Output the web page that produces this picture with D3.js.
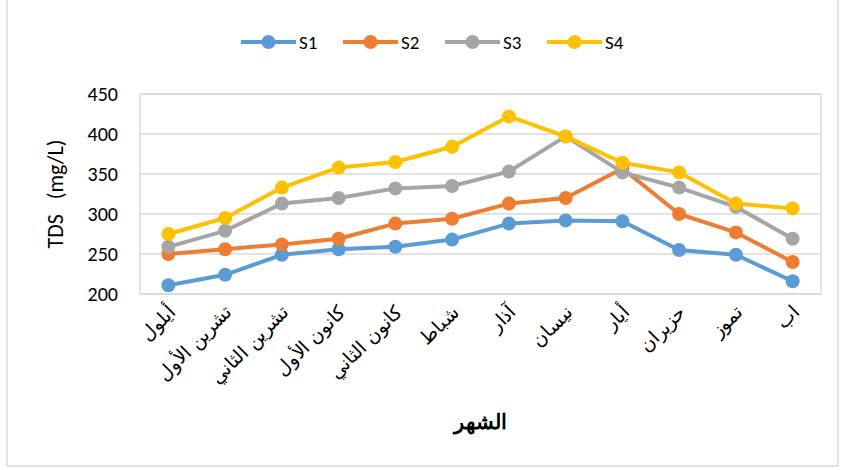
<html>
<head>
<style>
body { margin: 0; background: #fff; font-family: Calibri, Carlito, "Liberation Sans", sans-serif; }
.grid line { stroke: #d9d9d9; stroke-width: 1.5; }
.axis path, .axis line { display: none; }
</style>
</head>
<script src="https://d3js.org/d3.v7.min.js"></script>
<body>
<div id="chart"></div>
<script>

var months = ["أيلول", "تشرين الأول", "تشرين الثاني", "كانون الأول", "كانون الثاني", "شباط",
              "آذار", "نيسان", "أيار", "حزيران", "تموز", "اب"];
var seriesNames = ["S1", "S2", "S3", "S4"];
var s1 = [211, 224, 249, 256, 259, 268, 288, 292, 291, 255, 249, 216];
var s2 = [250, 256, 262, 269, 288, 294, 313, 320, 357, 300, 277, 240];
var s3 = [259, 279, 313, 320, 332, 335, 353, 397, 352, 333, 309, 269];
var s4 = [275, 295, 333, 358, 365, 384, 422, 397, 364, 352, 313, 307];
var yTicks = [200, 250, 300, 350, 400, 450];
var colors = ["#5b9bd5", "#ed7d31", "#a5a5a5", "#ffc000"];

var series = [s1, s2, s3, s4];

var W = 841, H = 470;
var margin = {top: 94, right: 20, bottom: 176, left: 140};
var width = W - margin.left - margin.right,
    height = H - margin.top - margin.bottom;

var svg = d3.select("#chart").append("svg")
    .attr("width", W)
    .attr("height", H);

// outer chart frame
svg.append("rect")
    .attr("x", 7).attr("y", -2)
    .attr("width", 831).attr("height", 468)
    .style("fill", "none")
    .style("stroke", "#d9d9d9")
    .style("stroke-width", 1.5);

var g = svg.append("g")
    .attr("transform", "translate(" + margin.left + "," + margin.top + ")");

var x = d3.scaleBand().domain(months).range([0, width]);
var y = d3.scaleLinear().domain([200, 450]).range([height, 0]);

// gridlines
g.append("g")
    .attr("class", "grid")
    .selectAll("line")
    .data(yTicks)
    .enter().append("line")
      .attr("x1", 0).attr("x2", width)
      .attr("y1", function(d) { return y(d); })
      .attr("y2", function(d) { return y(d); });

// plot area border
g.append("rect")
    .attr("width", width).attr("height", height)
    .style("fill", "none")
    .style("stroke", "#d9d9d9")
    .style("stroke-width", 1.5);

// y axis
g.append("g")
    .attr("class", "axis")
    .call(d3.axisLeft(y).tickValues(yTicks).tickSize(0).tickPadding(22))
    .selectAll("text")
      .style("font-size", "20px")
      .style("fill", "#000")
      .style("font-family", "Calibri, Carlito, 'Liberation Sans', sans-serif");

// x axis with rotated labels
g.append("g")
    .attr("class", "axis")
    .attr("transform", "translate(0," + height + ")")
    .call(d3.axisBottom(x).tickSize(0).tickPadding(0))
    .selectAll("text")
      .attr("transform", "translate(3,15) rotate(-45)")
      .attr("dy", "0.35em")
      .style("text-anchor", "end")
      .style("font-size", "19px")
      .style("fill", "#000")
      .style("font-family", "'DejaVu Serif', 'Liberation Serif', serif");

// lines and markers
var line = d3.line()
    .x(function(d, i) { return x(months[i]) + x.bandwidth() / 2; })
    .y(function(d) { return y(d); });

series.forEach(function(vals, k) {
  g.append("path")
      .datum(vals)
      .attr("d", line)
      .style("fill", "none")
      .style("stroke", colors[k])
      .style("stroke-width", 4)
      .style("stroke-linejoin", "round");
  g.selectAll(".dot" + k)
      .data(vals)
      .enter().append("circle")
        .attr("class", "dot" + k)
        .attr("cx", function(d, i) { return x(months[i]) + x.bandwidth() / 2; })
        .attr("cy", function(d) { return y(d); })
        .attr("r", 7)
        .style("fill", colors[k]);
});

// y axis title
svg.append("text")
    .attr("transform", "translate(55,194) rotate(-90)")
    .attr("dy", "0.35em")
    .style("text-anchor", "middle")
    .style("font-size", "22px")
    .attr("xml:space", "preserve")
    .text("TDS   (mg/L)");

// x axis title
svg.append("text")
    .attr("x", margin.left + width / 2)
    .attr("y", 422)
    .attr("dy", "0.35em")
    .style("text-anchor", "middle")
    .style("font-size", "21px")
    .style("font-weight", "bold")
    .style("font-family", "'DejaVu Serif', 'Liberation Serif', serif")
    .text("الشهر");

// legend
var legend = svg.selectAll(".legend")
    .data(seriesNames)
    .enter().append("g")
      .attr("class", "legend")
      .attr("transform", function(d, i) { return "translate(" + (241 + i * 102) + ",42)"; });

legend.append("line")
    .attr("x1", 0).attr("x2", 55)
    .style("stroke", function(d, i) { return colors[i]; })
    .style("stroke-width", 4);

legend.append("circle")
    .attr("cx", 27.5)
    .attr("r", 7)
    .style("fill", function(d, i) { return colors[i]; });

legend.append("text")
    .attr("x", 58)
    .attr("dy", "0.35em")
    .style("font-size", "19px")
    .text(function(d) { return d; });
</script>
</body>
</html>
